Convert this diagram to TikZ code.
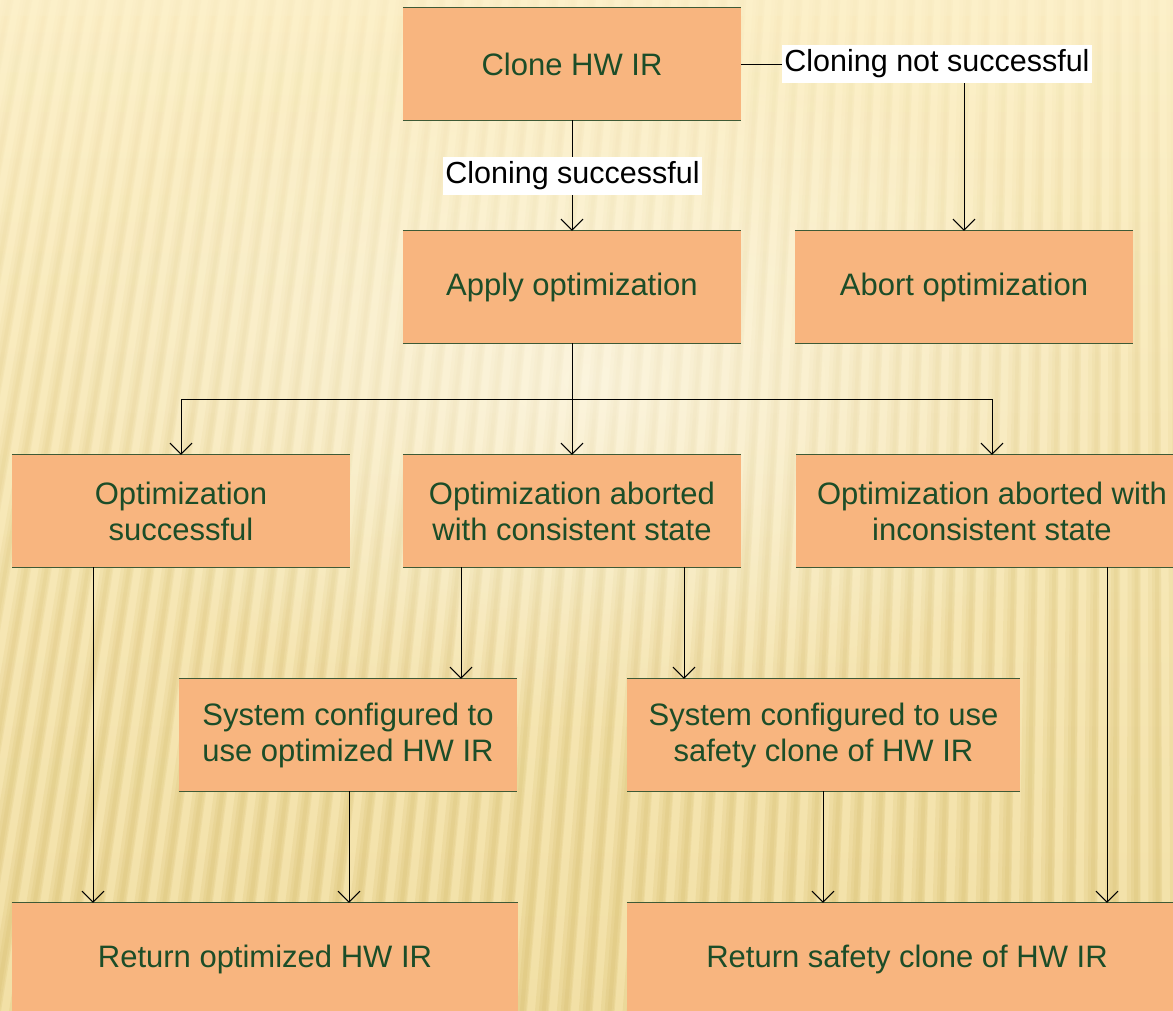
\documentclass[tikz,border=0pt]{standalone}
\usepackage{fontspec}
\setmainfont{Liberation Sans}
\usetikzlibrary{arrows.meta,fadings}

\definecolor{boxfill}{HTML}{F8B57F}
\definecolor{boxtext}{HTML}{1C4D28}
\definecolor{boxedge}{HTML}{3E5A36}
\definecolor{bgtop}{HTML}{FCF0C9}
\definecolor{bgbottom}{HTML}{F2E0A6}
\definecolor{stripe}{HTML}{D6BC6C}

\tikzfading[name=stripefade, top color=transparent!92, bottom color=transparent!0]
\tikzfading[name=glowfade, inner color=transparent!0, outer color=transparent!100]

\newcommand\boxfont{\fontsize{31}{36}\selectfont}
\newcommand\labelfont{\fontsize{30.5}{36}\selectfont}

\tikzset{
  stepbox/.style={rectangle, fill=boxfill, text=boxtext, align=center,
    minimum height=112pt, inner sep=0pt, font=\boxfont},
  edgelabel/.style={rectangle, fill=white, text=black, inner xsep=2pt, inner ysep=0pt,
    minimum height=38pt, font=\labelfont},
  conn/.style={draw=black, line width=1pt},
  arr/.style={conn, -{Straight Barb[length=11pt, width=22pt, line width=1pt]}},
  rim/.style={draw=boxedge, line width=1.2pt},
}

\begin{document}
\begin{tikzpicture}[x=1pt, y=-1pt]
  \useasboundingbox (0,0) rectangle (1173,1010);
  \clip (0,0) rectangle (1173,1010);

  % background: warm gradient, soft slanted stripes, central glow
  \fill[top color=bgtop, bottom color=bgbottom] (0,0) rectangle (1173,1010);
  \foreach \w/\o in {14/0.22, 9/0.22, 4/0.22} {
    \fill[stripe, fill opacity=\o, path fading=stripefade]
      \foreach \xb [evaluate=\xb as \xt using \xb+(1150-\xb)*0.144] in {-420,-398,...,1300} {
        (\xb-\w/2,1015) -- (\xb+\w/2,1015) -- (\xt+0.856*\w/2,-5) -- (\xt-0.856*\w/2,-5) -- cycle
      };
  }
  \fill[white, fill opacity=0.5, path fading=glowfade] (590,380) ellipse (540 and 340);

  % boxes
  \node[stepbox, minimum width=338pt] (clone)   at (572,64)    {Clone HW IR};
  \node[stepbox, minimum width=338pt] (apply)   at (572,287)   {Apply optimization};
  \node[stepbox, minimum width=338pt] (abort)   at (964,287)   {Abort optimization};
  \node[stepbox, minimum width=338pt] (succ)    at (181,511)   {Optimization\\successful};
  \node[stepbox, minimum width=338pt] (cons)    at (572,511)   {Optimization aborted\\with consistent state};
  \node[stepbox, minimum width=392pt] (incons)  at (992,511)   {Optimization aborted with\\inconsistent state};
  \node[stepbox, minimum width=338pt] (sysopt)  at (348,735)   {System configured to\\use optimized HW IR};
  \node[stepbox, minimum width=393pt] (syssafe) at (823.5,735) {System configured to use\\safety clone of HW IR};
  \node[stepbox, minimum width=506pt] (retopt)  at (265,959)   {Return optimized HW IR};
  \node[stepbox, minimum width=560pt] (retsafe) at (907,959)   {Return safety clone of HW IR};

  % thin rules along the top and bottom of every box
  \foreach \n in {clone,apply,abort,succ,cons,incons,sysopt,syssafe,retopt,retsafe} {
    \draw[rim] (\n.north west) -- (\n.north east);
    \draw[rim] (\n.south west) -- (\n.south east);
  }

  % lanes for the vertical connectors
  \coordinate (l1) at (93,0);
  \coordinate (l2) at (461,0);
  \coordinate (l3) at (684,0);
  \coordinate (l4) at (349,0);
  \coordinate (l5) at (823,0);
  \coordinate (l6) at (1107,0);
  \coordinate (l7) at (181,0);
  \coordinate (l8) at (992,0);
  \coordinate (turn) at (964,64);
  \coordinate (split) at (572,399);

  % cloning outcome
  \draw[arr] (clone.south) -- (apply.north);
  \node[edgelabel] (okl) at (572.5,176) {Cloning successful};
  \draw[arr] (clone.east) -- (turn) -- (abort.north);
  \node[edgelabel] (faill) at (937,64) {Cloning not successful};

  % optimization outcome fan-out
  \draw[conn] (apply.south) -- (split);
  \draw[conn] (split -| l7) -- (split -| l8);
  \draw[arr] (split -| l7) -- (succ.north -| l7);
  \draw[arr] (split) -- (cons.north);
  \draw[arr] (split -| l8) -- (incons.north -| l8);

  % into configuration and return
  \draw[arr] (succ.south -| l1) -- (retopt.north -| l1);
  \draw[arr] (cons.south -| l2) -- (sysopt.north -| l2);
  \draw[arr] (cons.south -| l3) -- (syssafe.north -| l3);
  \draw[arr] (sysopt.south -| l4) -- (retopt.north -| l4);
  \draw[arr] (syssafe.south -| l5) -- (retsafe.north -| l5);
  \draw[arr] (incons.south -| l6) -- (retsafe.north -| l6);
\end{tikzpicture}
\end{document}
